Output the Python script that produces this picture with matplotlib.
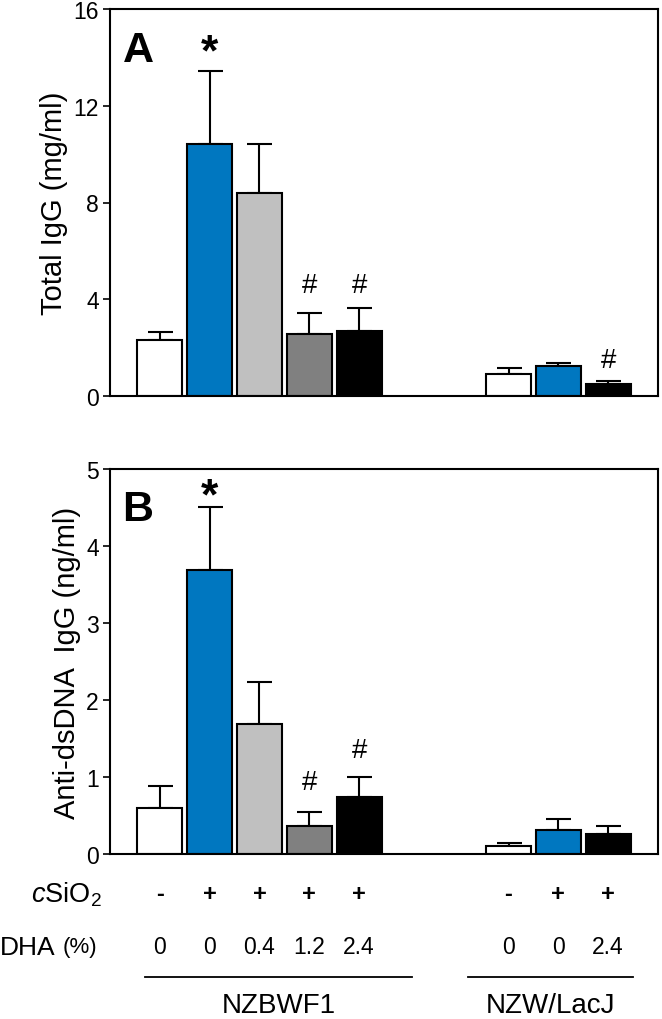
import matplotlib
matplotlib.use('Agg')
import matplotlib.pyplot as plt
from matplotlib import font_manager
from matplotlib.transforms import blended_transform_factory
import numpy as np

# data
positions = [0, 1, 2, 3, 4, 7, 8, 9]
bar_colors = ['white', '#0077c0', '#c0c0c0', '#808080', 'black',
              'white', '#0077c0', 'black']

total_igg = [2.30, 10.41, 8.41, 2.57, 2.70, 0.93, 1.22, 0.51]
total_igg_sem = [0.34, 3.01, 2.00, 0.85, 0.94, 0.22, 0.15, 0.10]
anti_dsdna = [0.60, 3.69, 1.69, 0.36, 0.74, 0.11, 0.31, 0.26]
anti_dsdna_sem = [0.28, 0.82, 0.54, 0.19, 0.26, 0.03, 0.14, 0.11]

# significance marks: (x, y, symbol)
marks_a = [(1, 14.2, '*'), (3, 4.6, '#'), (4, 4.6, '#'), (9, 1.5, '#')]
marks_b = [(1, 4.64, '*'), (3, 0.94, '#'), (4, 1.35, '#')]

csio2_row = ['-', '+', '+', '+', '+', '-', '+', '+']
dha_row = ['0', '0', '0.4', '1.2', '2.4', '0', '0', '2.4']
groups = [('NZBWF1', -0.30, 5.06), ('NZW/LacJ', 6.19, 9.5)]

names = {f.name for f in font_manager.fontManager.ttflist}
narrow = 'Liberation Sans Narrow' if 'Liberation Sans Narrow' in names else 'Liberation Sans'
plt.rcParams['font.family'] = ['Liberation Sans', 'DejaVu Sans']
plt.rcParams['mathtext.fontset'] = 'custom'
plt.rcParams['mathtext.rm'] = 'Liberation Sans'
plt.rcParams['mathtext.it'] = 'Liberation Sans:italic'

fig = plt.figure(figsize=(6.62, 10.2), dpi=100)
ax_a = fig.add_axes([110 / 662, 1 - 397 / 1020, 548 / 662, 387 / 1020])
ax_b = fig.add_axes([110 / 662, 1 - 855 / 1020, 548 / 662, 385 / 1020])


def draw_panel(ax, vals, sem, ymax, yticks, ylabel, letter, marks):
    ax.bar(positions, vals, width=0.9, color=bar_colors, edgecolor='black',
           linewidth=1.5, zorder=2)
    ax.errorbar(positions, vals, yerr=[np.zeros(len(vals)), sem], fmt='none',
                ecolor='black', elinewidth=1.5, capsize=9, capthick=1.5, zorder=1)
    ax.set_xlim(-1, 10)
    ax.set_ylim(0, ymax)
    ax.set_yticks(yticks)
    ax.set_xticks([])
    for lab in ax.get_yticklabels():
        lab.set_fontfamily(narrow)
        lab.set_fontsize(16.5)
    ax.tick_params(axis='y', direction='out', length=5, width=1.2, pad=3)
    for sp in ax.spines.values():
        sp.set_linewidth(1.5)
    ax.set_ylabel(ylabel, fontsize=21, labelpad=4)
    ax.text(-0.75, ymax * 0.895, letter, fontsize=31, fontweight='bold',
            ha='left', va='center')
    for x, y, s in marks:
        if s == '*':
            ax.text(x, y, s, fontsize=32, fontweight='bold', ha='center', va='center')
        else:
            ax.text(x, y, s, fontsize=20, ha='center', va='center')


draw_panel(ax_a, total_igg, total_igg_sem, 16, [0, 4, 8, 12, 16],
           'Total IgG (mg/ml)', 'A', marks_a)
draw_panel(ax_b, anti_dsdna, anti_dsdna_sem, 5, [0, 1, 2, 3, 4, 5],
           'Anti-dsDNA  IgG (ng/ml)', 'B', marks_b)

# treatment rows under panel B
tr = blended_transform_factory(ax_b.transData, fig.transFigure)
y_csio2 = 1 - 895 / 1020
y_dha = 1 - 948 / 1020
y_line = 1 - 978 / 1020
y_group = 1 - 1006 / 1020

fig.text(102 / 662, y_csio2, r'$\mathit{c}$SiO$_2$', fontsize=19.5, ha='right', va='center')
fig.text(97 / 662, y_dha, '(%)', fontsize=16, ha='right', va='center')
fig.text(56 / 662, y_dha, 'DHA', fontsize=19, ha='right', va='center')

for x, s in zip(positions, csio2_row):
    ax_b.text(x, y_csio2, s, transform=tr, fontsize=17, fontweight='bold',
              ha='center', va='center')
for x, s in zip(positions, dha_row):
    ax_b.text(x, y_dha, s, transform=tr, fontsize=16.5, family=narrow,
              ha='center', va='center')

for name, x0, x1 in groups:
    ax_b.plot([x0, x1], [y_line, y_line], transform=tr, color='black',
              linewidth=1.3, clip_on=False)
    ax_b.text((x0 + x1) / 2, y_group, name, transform=tr, fontsize=20,
              ha='center', va='center')

fig.savefig('out.png', dpi=100)
